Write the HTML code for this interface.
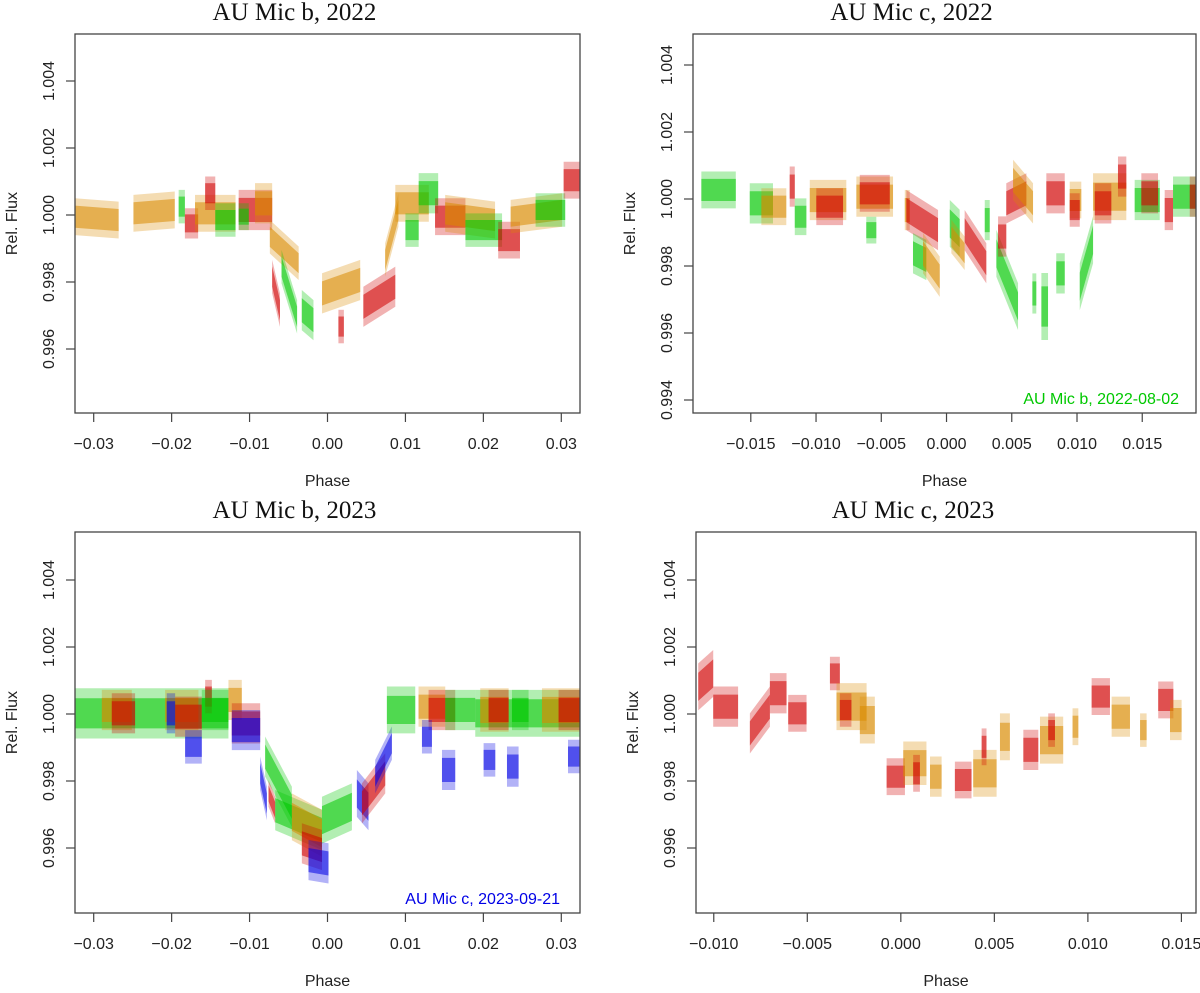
<!DOCTYPE html>
<html><head><meta charset="utf-8"><style>
body{margin:0;background:#fff}
svg text{font-family:"Liberation Sans",sans-serif}
</style></head><body>
<svg id="c" width="1200" height="988" xmlns="http://www.w3.org/2000/svg"></svg>
<script>
// colours: O orange, R red, G green, B blue
const colorMap = {O:"#d98a00", R:"#d00000", G:"#00c800", B:"#0000e6"};

// Panel 1: AU Mic b, 2022
const p1Col = ["O","O","G","R","O","R","G","R","G","O","O","R","G","G","O","R","R","O","O","G","G","R","O","G","R","O","G","R"];
const p1Ph0 = [-0.0324,-0.0249,-0.0191,-0.0183,-0.0170,-0.0157,-0.0144,-0.0114,-0.0114,-0.0093,-0.0074,-0.0071,-0.0059,-0.0033,-0.0007,0.0014,0.0046,0.0074,0.0087,0.0100,0.0117,0.0138,0.0151,0.0177,0.0219,0.0235,0.0267,0.0303];
const p1Ph1 = [-0.0268,-0.0196,-0.0183,-0.0166,-0.0118,-0.0144,-0.0118,-0.0071,-0.0101,-0.0071,-0.0037,-0.0061,-0.0039,-0.0018,0.0042,0.0021,0.0087,0.0091,0.0130,0.0117,0.0142,0.0177,0.0215,0.0224,0.0247,0.0301,0.0305,0.0324];
const p1F0 = [-0.00005,0.00005,0.00025,-0.00025,0.00005,0.00065,-0.00015,0.00015,-0.00005,0.00035,-0.00065,-0.00184,-0.00154,-0.00284,-0.00234,-0.00333,-0.00274,-0.00134,0.00035,-0.00045,0.00065,-0.00005,0.00005,-0.00045,-0.00075,-0.00005,0.00015,0.00104];
const p1F1 = [-0.00015,0.00015,0.00025,-0.00025,0.00005,0.00065,-0.00015,0.00015,-0.00005,0.00035,-0.00144,-0.00284,-0.00304,-0.00314,-0.00194,-0.00333,-0.00214,0.00015,0.00035,-0.00045,0.00065,-0.00005,-0.00015,-0.00045,-0.00075,0.00015,0.00015,0.00104];
const p1Sd = [0.00055,0.00055,0.0005,0.00045,0.00055,0.0005,0.0005,0.0006,0.0004,0.0006,0.0005,0.0005,0.0005,0.0006,0.0006,0.0005,0.0006,0.0005,0.00055,0.0005,0.0006,0.00055,0.00055,0.0005,0.00055,0.0005,0.0005,0.00055];

// Panel 2: AU Mic c, 2022
const p2Col = ["G","G","O","R","G","O","R","O","R","G","O","R","G","O","G","O","R","G","G","R","R","O","G","G","G","G","R","O","R","O","R","R","G","R","R","G","R"];
const p2Ph0 = [-0.01879,-0.01508,-0.01419,-0.01202,-0.01163,-0.01048,-0.00998,-0.00691,-0.00665,-0.00615,-0.00320,-0.00308,-0.00257,-0.00180,0.00025,0.00037,0.00139,0.00293,0.00382,0.00395,0.00458,0.00510,0.00658,0.00727,0.00841,0.01021,0.00765,0.00944,0.00944,0.01123,0.01136,0.01314,0.01442,0.01493,0.01672,0.01736,0.01864];
const p2Ph1 = [-0.01615,-0.01330,-0.01228,-0.01163,-0.01074,-0.00768,-0.00793,-0.00410,-0.00435,-0.00538,-0.00282,-0.00065,-0.00155,-0.00052,0.00101,0.00139,0.00305,0.00331,0.00548,0.00458,0.00612,0.00663,0.00688,0.00778,0.00906,0.01123,0.00906,0.01033,0.01021,0.01378,0.01263,0.01378,0.01634,0.01621,0.01736,0.01914,0.01914];
const p2F0 = [0.00027,-0.00013,-0.00023,0.00037,-0.00053,-0.00003,-0.00023,0.00007,0.00017,-0.00093,-0.00033,-0.00033,-0.00162,-0.00162,-0.00073,-0.00112,-0.00093,-0.00063,-0.00162,-0.00112,-0.00013,0.00057,-0.00282,-0.00321,-0.00222,-0.00262,0.00017,-0.00003,-0.00033,0.00007,-0.00013,0.00067,-0.00003,0.00017,-0.00033,0.00007,0.00007];
const p2F1 = [0.00027,-0.00013,-0.00023,0.00037,-0.00053,-0.00003,-0.00023,0.00007,0.00017,-0.00093,-0.00033,-0.00093,-0.00182,-0.00232,-0.00102,-0.00162,-0.00192,-0.00063,-0.00321,-0.00112,0.00017,-0.00013,-0.00282,-0.00321,-0.00222,-0.00122,0.00017,-0.00003,-0.00033,0.00007,-0.00013,0.00067,-0.00003,0.00017,-0.00033,0.00007,0.00007];
const p2Sd = [0.00055,0.0006,0.00055,0.0006,0.00055,0.0006,0.00055,0.0006,0.00055,0.0004,0.0006,0.0006,0.0006,0.0006,0.0007,0.0005,0.0006,0.0006,0.0007,0.0006,0.0006,0.0006,0.0006,0.001,0.0006,0.0007,0.0006,0.00055,0.0005,0.0007,0.0006,0.0006,0.0006,0.0006,0.0006,0.0006,0.0006];

// Panel 3: AU Mic b, 2023
const p3Col = ["G","O","R","O","R","B","B","R","G","O","R","B","G","B","R","G","O","R","B","G","B","R","B","G","O","R","B","B","G","G","O","R","B","B","G","O","R","B"];
const p3Ph0 = [-0.03239,-0.02896,-0.02768,-0.02084,-0.01955,-0.01827,-0.02063,-0.01570,-0.01613,-0.01271,-0.01228,-0.01228,-0.00800,-0.00864,-0.00757,-0.00671,-0.00457,-0.00329,-0.00244,-0.00071,0.00377,0.00442,0.00612,0.00762,0.01168,0.01297,0.01212,0.01469,0.01511,0.01896,0.01960,0.02067,0.02003,0.02303,0.02367,0.02752,0.02965,0.03086];
const p3Ph1 = [-0.01271,-0.02511,-0.02469,-0.01656,-0.01613,-0.01613,-0.01955,-0.01484,-0.01271,-0.01100,-0.00864,-0.00864,-0.00457,-0.00778,-0.00671,-0.00071,-0.00071,-0.00071,0.00013,0.00313,0.00526,0.00741,0.00826,0.01126,0.01511,0.01639,0.01340,0.01639,0.01896,0.03239,0.02324,0.02324,0.02153,0.02452,0.02580,0.03239,0.03239,0.03239];
const p3F0 = [0.00002,0.00012,0.00002,0.00012,-0.00008,-0.00098,0.00002,0.00052,0.00012,0.00042,-0.00028,-0.00048,-0.00127,-0.00177,-0.00237,-0.00287,-0.00307,-0.00386,-0.00436,-0.00317,-0.00237,-0.00267,-0.00187,0.00012,0.00022,0.00012,-0.00068,-0.00167,0.00012,0.00002,0.00012,0.00012,-0.00137,-0.00157,0.00012,0.00012,0.00012,-0.00127];
const p3F1 = [0.00002,0.00012,0.00002,0.00012,-0.00008,-0.00098,0.00002,0.00052,0.00012,0.00042,-0.00028,-0.00048,-0.00277,-0.00267,-0.00287,-0.00346,-0.00356,-0.00406,-0.00446,-0.00277,-0.00277,-0.00177,-0.00087,0.00012,0.00022,0.00012,-0.00068,-0.00167,0.00012,0.00002,0.00012,0.00012,-0.00137,-0.00157,0.00012,0.00012,0.00012,-0.00127];
const p3Sd = [0.00075,0.0006,0.0006,0.0006,0.0006,0.0005,0.0006,0.0005,0.0006,0.0006,0.0006,0.0006,0.0006,0.0005,0.0004,0.0006,0.0007,0.0006,0.0006,0.0007,0.0007,0.0006,0.0005,0.0007,0.0006,0.0006,0.0005,0.0006,0.0006,0.0007,0.00065,0.0006,0.0005,0.0006,0.0006,0.00065,0.0006,0.0005];

// Panel 4: AU Mic c, 2023
const p4Col = ["R","R","R","R","R","R","O","R","O","R","O","R","O","R","O","R","O","R","O","R","O","R","O","O","R","O"];
const p4Ph0 = [-0.01083,-0.01003,-0.00807,-0.00700,-0.00602,-0.00379,-0.00344,-0.00326,-0.00219,-0.00076,0.00013,0.00066,0.00156,0.00289,0.00387,0.00432,0.00530,0.00655,0.00744,0.00788,0.00918,0.01020,0.01127,0.01279,0.01376,0.01439];
const p4Ph1 = [-0.01003,-0.00870,-0.00700,-0.00611,-0.00504,-0.00326,-0.00183,-0.00264,-0.00139,0.00022,0.00137,0.00102,0.00218,0.00378,0.00512,0.00458,0.00583,0.00735,0.00868,0.00824,0.00949,0.01118,0.01225,0.01314,0.01457,0.01501];
const p4F0 = [0.00081,0.00022,-0.00058,0.00062,0.00002,0.00121,0.00022,0.00012,-0.00018,-0.00187,-0.00147,-0.00177,-0.00187,-0.00197,-0.00177,-0.00098,-0.00068,-0.00107,-0.00078,-0.00048,-0.00038,0.00052,-0.00008,-0.00048,0.00042,-0.00018];
const p4F1 = [0.00121,0.00022,0.00022,0.00062,0.00002,0.00121,0.00022,0.00012,-0.00018,-0.00187,-0.00147,-0.00177,-0.00187,-0.00197,-0.00177,-0.00098,-0.00068,-0.00107,-0.00078,-0.00048,-0.00038,0.00052,-0.00008,-0.00048,0.00042,-0.00018];
const p4Sd = [0.0007,0.0006,0.0006,0.0006,0.00055,0.0005,0.0007,0.0005,0.0007,0.00055,0.00065,0.00055,0.0006,0.00055,0.0007,0.00055,0.0007,0.0006,0.0007,0.0005,0.00055,0.00055,0.0006,0.0005,0.00055,0.0006];

const p1XTicks = ["-0.03","-0.02","-0.01","0.00","0.01","0.02","0.03"];
const p2XTicks = ["-0.015","-0.010","-0.005","0.000","0.005","0.010","0.015"];
const p4XTicks = ["-0.010","-0.005","0.000","0.005","0.010","0.015"];
const yTicksA = ["0.996","0.998","1.000","1.002","1.004"];
const yTicksB = ["0.994","0.996","0.998","1.000","1.002","1.004"];

const NS="http://www.w3.org/2000/svg";
const svg=document.getElementById('c');
function mk(tag,attrs,parent){const e=document.createElementNS(NS,tag);for(const k in attrs)e.setAttribute(k,attrs[k]);(parent||svg).appendChild(e);return e;}

const panels=[
 {key:"b-2022",title:"AU Mic b, 2022",L:75,R:580,T:34,B:413,x0:-0.0324,x1:0.0324,yAt:215,xt:p1XTicks,yt:yTicksA,col:p1Col,ph0:p1Ph0,ph1:p1Ph1,f0:p1F0,f1:p1F1,sd:p1Sd},
 {key:"c-2022",title:"AU Mic c, 2022",L:693,R:1196,T:34,B:413,x0:-0.01943,x1:0.01912,yAt:199,xt:p2XTicks,yt:yTicksB,col:p2Col,ph0:p2Ph0,ph1:p2Ph1,f0:p2F0,f1:p2F1,sd:p2Sd},
 {key:"b-2023",title:"AU Mic b, 2023",L:75,R:580,T:532,B:913,x0:-0.0324,x1:0.0324,yAt:714,xt:p1XTicks,yt:yTicksA,col:p3Col,ph0:p3Ph0,ph1:p3Ph1,f0:p3F0,f1:p3F1,sd:p3Sd},
 {key:"c-2023",title:"AU Mic c, 2023",L:696,R:1196,T:532,B:913,x0:-0.01095,x1:0.01578,yAt:714,xt:p4XTicks,yt:yTicksA,col:p4Col,ph0:p4Ph0,ph1:p4Ph1,f0:p4F0,f1:p4F1,sd:p4Sd}
];

panels.forEach(p=>{
 const g=mk('g',{});
 
 
 const xs=v=>p.L+(v-p.x0)/(p.x1-p.x0)*(p.R-p.L);
 const ys=f=>p.yAt-(f/0.002)*67; // f = flux-1
 const clip=mk('clipPath',{id:'cl'+p.key},g);
 mk('rect',{x:p.L,y:p.T,width:p.R-p.L,height:p.B-p.T},clip);
 const dg=mk('g',{'clip-path':'url(#cl'+p.key+')'},g);
 
 
 for(let i=0;i<p.col.length;i++){
  const c=colorMap[p.col[i]];
  const a=p.ph0[i],b=p.ph1[i],fa=p.f0[i],fb=p.f1[i],s=p.sd[i];
  [[1,0.3],[0.6,0.55]].forEach(([k,op])=>{
   const pts=[[xs(a),ys(fa+s*k)],[xs(b),ys(fb+s*k)],[xs(b),ys(fb-s*k)],[xs(a),ys(fa-s*k)]];
   const poly=mk('polygon',{points:pts.map(q=>q.join(',')).join(' '),fill:c,'fill-opacity':op},dg);
   
   
  });
 }
 const box=mk('rect',{x:p.L,y:p.T,width:p.R-p.L,height:p.B-p.T,fill:'none',stroke:'#444','stroke-width':1.3},g);
 
 
 p.xt.forEach(t=>{
  const x=xs(parseFloat(t));
  mk('line',{x1:x,x2:x,y1:p.B,y2:p.B+9,stroke:'#444','stroke-width':1.2},g);
  const tx=mk('text',{x:x,y:p.B+36,'text-anchor':'middle','font-size':16,fill:'#222'},g);
  tx.textContent=t.replace('-','\u2212');
  
  
 });
 p.yt.forEach(t=>{
  const y=ys(parseFloat(t)-1);
  mk('line',{x1:p.L-9,x2:p.L,y1:y,y2:y,stroke:'#444','stroke-width':1.2},g);
  const lx=p.L-21;
  const tx=mk('text',{x:lx,y:y,'text-anchor':'middle','font-size':16,fill:'#222',transform:`rotate(-90 ${lx} ${y})`},g);
  tx.textContent=t;
  
  
 });
 const title=mk('text',{x:(p.L+p.R)/2-33,y:p.T-14,'text-anchor':'middle','font-size':25,fill:'#111',style:'font-family:"Liberation Serif",serif'},g);
 title.textContent=p.title;
 
 
 const xl=mk('text',{x:(p.L+p.R)/2,y:p.B+73,'text-anchor':'middle','font-size':16,fill:'#222'},g);
 xl.textContent='Phase';
 
 
 const yc=(p.T+p.B)/2, yx=p.L-58;
 const yl=mk('text',{x:yx,y:yc,'text-anchor':'middle','font-size':16,fill:'#222',transform:`rotate(-90 ${yx} ${yc})`},g);
 yl.textContent='Rel. Flux';
 
 
});
const n1=mk('text',{x:1179,y:404,'text-anchor':'end','font-size':16,fill:'#00c800'});
n1.textContent='AU Mic b, 2022-08-02';


const n2=mk('text',{x:560,y:904,'text-anchor':'end','font-size':16,fill:'#0000e6'});
n2.textContent='AU Mic c, 2023-09-21';


</script>
</body></html>
